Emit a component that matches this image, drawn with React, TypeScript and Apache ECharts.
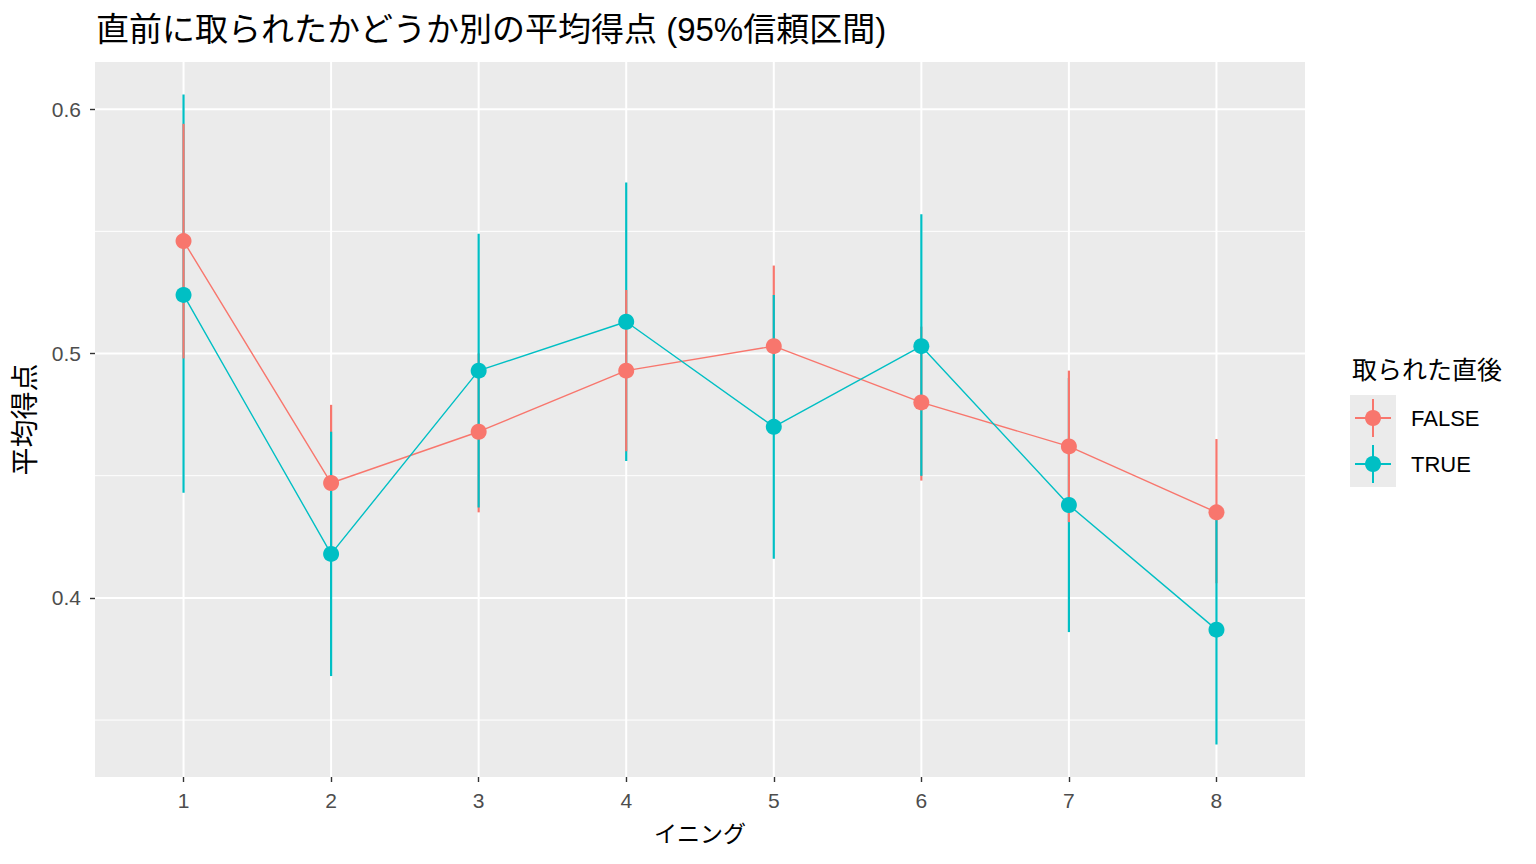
import React, { useEffect, useRef } from "react";
import * as echarts from "echarts";

// ---- data ----
const innings = [1, 2, 3, 4, 5, 6, 7, 8];
const groups = ["FALSE", "TRUE"];
const falseMean = [0.546, 0.447, 0.468, 0.493, 0.503, 0.480, 0.462, 0.435];
const falseLow = [0.498, 0.416, 0.435, 0.460, 0.470, 0.448, 0.431, 0.406];
const falseHigh = [0.594, 0.479, 0.500, 0.526, 0.536, 0.511, 0.493, 0.465];
const trueMean = [0.524, 0.418, 0.493, 0.513, 0.470, 0.503, 0.438, 0.387];
const trueLow = [0.443, 0.368, 0.437, 0.456, 0.416, 0.450, 0.386, 0.340];
const trueHigh = [0.606, 0.468, 0.549, 0.570, 0.524, 0.557, 0.490, 0.435];
const yMajorTicks = [0.4, 0.5, 0.6];
const yMinorLines = [0.35, 0.45, 0.55];
// innings at which the FALSE error bar is drawn over the TRUE one
const falseOnTop = [1, 4, 7];

const TITLE = "直前に取られたかどうか別の平均得点 (95%信頼区間)";
const X_NAME = "イニング";
const Y_NAME = "平均得点";
const LEGEND_TITLE = "取られた直後";

const COLORS = ["#F8766D", "#00BFC4"];
const LATIN = "'Liberation Sans', Arial, 'Noto Sans CJK JP', sans-serif";
const CJK = "'Noto Sans CJK JP', 'Liberation Sans', sans-serif";

export default function App() {
  const ref = useRef<HTMLDivElement>(null);

  useEffect(() => {
    if (!ref.current) return;
    const chart = echarts.init(ref.current, undefined, { renderer: "svg" });

    const means = [falseMean, trueMean];
    const lows = [falseLow, trueLow];
    const highs = [falseHigh, trueHigh];

    // discrete x scale: ggplot adds 0.6 on each side
    const xMin = innings[0] - 0.6;
    const xMax = innings[innings.length - 1] + 0.6;
    const allLow = Math.min(...falseLow, ...trueLow);
    const allHigh = Math.max(...falseHigh, ...trueHigh);
    const pad = (allHigh - allLow) * 0.05;
    const yMin = allLow - pad;
    const yMax = allHigh + pad;

    // error bar items ordered so the right group ends on top
    const errData: number[][] = [];
    innings.forEach((x, i) => {
      const order = falseOnTop.includes(x) ? [1, 0] : [0, 1];
      order.forEach((g) => errData.push([x, lows[g][i], highs[g][i], g]));
    });

    const gridData = [
      ...yMinorLines.map((v) => [v, 1, 0]),
      ...yMajorTicks.map((v) => [v, 2, 0]),
    ];
    const vGridData = innings.map((x) => [x, 2]);

    const legendGraphics: any[] = [
      {
        type: "text",
        x: 1352,
        y: 368,
        style: {
          text: LEGEND_TITLE,
          fontSize: 25,
          fontFamily: CJK,
          fill: "#000",
          verticalAlign: "middle",
        },
      },
      {
        type: "rect",
        shape: { x: 1350, y: 395, width: 46, height: 92 },
        style: { fill: "#EBEBEB" },
      },
    ];
    groups.forEach((g, k) => {
      const cy = 418 + k * 46;
      legendGraphics.push(
        {
          type: "line",
          shape: { x1: 1355, y1: cy, x2: 1391, y2: cy },
          style: { stroke: COLORS[k], lineWidth: 2 },
        },
        {
          type: "line",
          shape: { x1: 1373, y1: cy - 19, x2: 1373, y2: cy + 19 },
          style: { stroke: COLORS[k], lineWidth: 2 },
        },
        {
          type: "circle",
          shape: { cx: 1373, cy, r: 8 },
          style: { fill: COLORS[k] },
        },
        {
          type: "text",
          x: 1411,
          y: cy,
          style: {
            text: g,
            fontSize: 22,
            fontFamily: LATIN,
            fill: "#000",
            verticalAlign: "middle",
          },
        }
      );
    });

    const option: any = {
      animation: false,
      backgroundColor: "#FFFFFF",
      title: {
        text: TITLE,
        left: 96,
        top: 9,
        padding: 0,
        textStyle: {
          fontSize: 33,
          fontWeight: "normal",
          fontFamily: LATIN,
          color: "#000",
          lineHeight: 40,
        },
      },
      grid: {
        left: 95,
        right: 231,
        top: 62,
        bottom: 87,
        show: true,
        backgroundColor: "#EBEBEB",
        borderWidth: 0,
      },
      xAxis: {
        type: "value",
        min: xMin,
        max: xMax,
        name: X_NAME,
        nameLocation: "middle",
        nameGap: 43,
        nameTextStyle: { fontSize: 23, fontFamily: CJK, color: "#000" },
        axisLine: { show: false },
        axisTick: {
          show: true,
          customValues: innings,
          length: 5,
          lineStyle: { color: "#333333", width: 1.4 },
        },
        axisLabel: {
          customValues: innings,
          fontSize: 21,
          fontFamily: LATIN,
          color: "#4D4D4D",
          margin: 13,
        },
        splitLine: { show: false },
      },
      yAxis: {
        type: "value",
        min: yMin,
        max: yMax,
        name: Y_NAME,
        nameLocation: "middle",
        nameRotate: 90,
        nameGap: 58,
        nameTextStyle: { fontSize: 28, fontFamily: CJK, color: "#000" },
        axisLine: { show: false },
        axisTick: {
          show: true,
          customValues: yMajorTicks,
          length: 5,
          lineStyle: { color: "#333333", width: 1.4 },
        },
        axisLabel: {
          customValues: yMajorTicks,
          formatter: (v: number) => v.toFixed(1),
          fontSize: 21,
          fontFamily: LATIN,
          color: "#4D4D4D",
          margin: 14,
        },
        splitLine: { show: false },
      },
      graphic: legendGraphics,
      series: [
        {
          type: "custom",
          name: "hgrid",
          silent: true,
          z: 1,
          data: gridData,
          encode: { y: 0 },
          renderItem: (_p: any, api: any) => {
            const v = api.value(0);
            const w = api.value(1);
            const a = api.coord([xMin, v]);
            const b = api.coord([xMax, v]);
            return {
              type: "line",
              shape: { x1: a[0], y1: a[1], x2: b[0], y2: b[1] },
              style: { stroke: "#FFFFFF", lineWidth: w },
            };
          },
        },
        {
          type: "custom",
          name: "vgrid",
          silent: true,
          z: 1,
          data: vGridData,
          encode: { x: 0 },
          renderItem: (_p: any, api: any) => {
            const x = api.value(0);
            const w = api.value(1);
            const a = api.coord([x, yMin]);
            const b = api.coord([x, yMax]);
            return {
              type: "line",
              shape: { x1: a[0], y1: a[1], x2: b[0], y2: b[1] },
              style: { stroke: "#FFFFFF", lineWidth: w },
            };
          },
        },
        {
          type: "custom",
          name: "errorbars",
          silent: true,
          z: 2,
          data: errData,
          encode: { x: 0, y: [1, 2] },
          renderItem: (_p: any, api: any) => {
            const x = api.value(0);
            const lo = api.value(1);
            const hi = api.value(2);
            const g = api.value(3);
            const a = api.coord([x, lo]);
            const b = api.coord([x, hi]);
            return {
              type: "line",
              shape: { x1: a[0], y1: a[1], x2: b[0], y2: b[1] },
              style: { stroke: COLORS[g], lineWidth: 2.2 },
            };
          },
        },
        ...groups.map((g, k) => ({
          type: "line",
          name: g,
          z: 3 + k,
          data: innings.map((x, i) => [x, means[k][i]]),
          symbol: "circle",
          symbolSize: 16,
          showSymbol: true,
          silent: true,
          itemStyle: { color: COLORS[k], borderWidth: 0 },
          lineStyle: { color: COLORS[k], width: 1.4 },
          emphasis: { disabled: true },
        })),
      ],
    };

    chart.setOption(option);
    return () => chart.dispose();
  }, []);

  return (
    <div
      ref={ref}
      style={{ position: "fixed", left: 0, top: 0, width: 1536, height: 864 }}
    />
  );
}
